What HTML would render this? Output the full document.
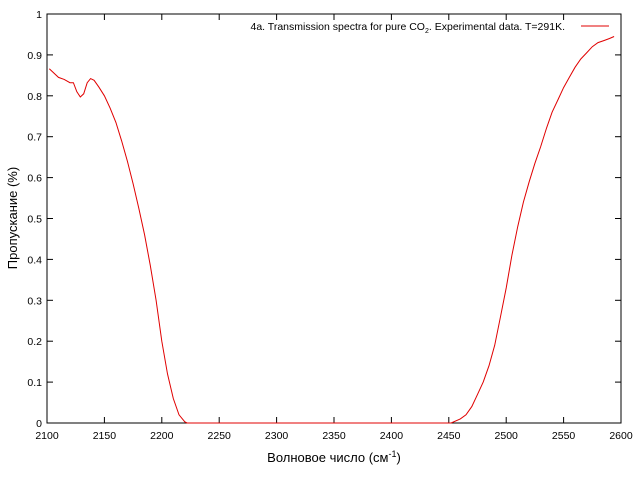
<!DOCTYPE html>
<html><head><meta charset="utf-8"><style>
body{margin:0;background:#fff}
svg text{font-family:"Liberation Sans","DejaVu Sans",sans-serif;font-size:10.5px;fill:#000}
</style></head><body>
<svg id="chart" width="640" height="480" viewBox="0 0 640 480">
<g id="axes"></g>
<path id="series" fill="none" stroke="#e00000" stroke-width="1"/>
<text x="565" y="30" text-anchor="end">4a. Transmission spectra for pure CO<tspan font-size="7" dy="3">2</tspan><tspan dy="-3">. Experimental data. T=291K.</tspan></text>
<line x1="581" y1="26" x2="609" y2="26" stroke="#e00000"/>
<text x="334" y="462" text-anchor="middle" style="font-size:13px">Волновое число (см<tspan font-size="9" dy="-5">-1</tspan><tspan dy="5">)</tspan></text>
<text transform="translate(17,218) rotate(-90)" text-anchor="middle" style="font-size:13px">Пропускание (%)</text>
</svg>
<script>
const wavenumbers=[2102,2110,2115,2120,2123,2126,2129,2132,2135,2138,2141,2145,2150,2155,2160,2165,2170,2175,2180,2185,2190,2195,2200,2205,2210,2215,2220,2222,2452,2460,2465,2470,2475,2480,2485,2490,2495,2500,2505,2510,2515,2520,2525,2530,2535,2540,2545,2550,2555,2560,2565,2570,2575,2580,2585,2590,2594];
const transmission=[0.866,0.845,0.84,0.832,0.832,0.81,0.797,0.805,0.832,0.842,0.838,0.822,0.80,0.77,0.735,0.69,0.64,0.585,0.525,0.46,0.385,0.30,0.20,0.12,0.06,0.02,0.003,0,0,0.01,0.02,0.04,0.07,0.10,0.14,0.19,0.26,0.33,0.41,0.48,0.54,0.59,0.635,0.675,0.72,0.76,0.79,0.82,0.845,0.87,0.89,0.905,0.92,0.93,0.935,0.94,0.945];
const xTicks=[2100,2150,2200,2250,2300,2350,2400,2450,2500,2550,2600];
const yTicks=[0,0.1,0.2,0.3,0.4,0.5,0.6,0.7,0.8,0.9,1];
const L=47,R=621,T=14,B=423;
const sx=v=>L+(v-2100)/500*(R-L);
const sy=v=>B-v*(B-T);
const NS='http://www.w3.org/2000/svg';
const g=document.getElementById('axes');
function mk(tag,attrs){const e=document.createElementNS(NS,tag);for(const k in attrs)e.setAttribute(k,attrs[k]);g.appendChild(e);return e;}
const frame=mk('rect',{x:L,y:T,width:R-L,height:B-T,fill:'none',stroke:'#000','stroke-width':1});


xTicks.forEach(v=>{const x=sx(v);
const t1=mk('line',{x1:x,y1:B,x2:x,y2:B-6,stroke:'#000'});


const t2=mk('line',{x1:x,y1:T,x2:x,y2:T+6,stroke:'#000'});


const tx=mk('text',{x:x,y:B+16,'text-anchor':'middle'});tx.textContent=v;


});
yTicks.forEach(v=>{const y=sy(v);
const t1=mk('line',{x1:L,y1:y,x2:L+6,y2:y,stroke:'#000'});


const t2=mk('line',{x1:R,y1:y,x2:R-6,y2:y,stroke:'#000'});


const tx=mk('text',{x:L-5,y:y+4,'text-anchor':'end'});tx.textContent=v;


});
document.getElementById('series').setAttribute('d',wavenumbers.map((w,i)=>(i?'L':'M')+sx(w).toFixed(1)+','+sy(transmission[i]).toFixed(1)).join(''));
</script>
</body></html>
